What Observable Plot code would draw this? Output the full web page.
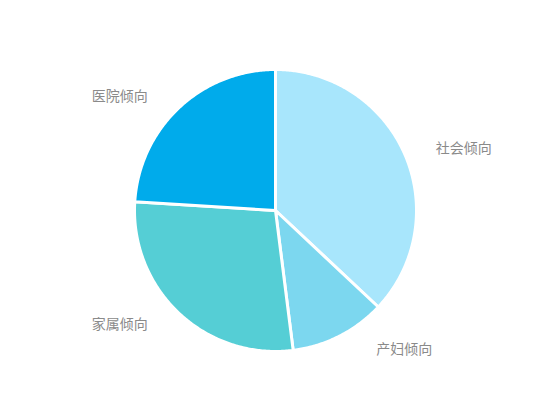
<!DOCTYPE html>
<html>
<head>
<meta charset="utf-8">
<script src="https://cdn.jsdelivr.net/npm/d3@7"></script>
<script src="https://cdn.jsdelivr.net/npm/@observablehq/plot@0.6"></script>
<style>
  html, body { margin: 0; padding: 0; background: #fff; }
  #chart { width: 550px; height: 420px; }
</style>
</head>
<body>
<div id="chart"></div>
<script>
const categories = ["社会倾向", "产妇倾向", "家属倾向", "医院倾向"];
const values = [37, 11, 28, 24];
const colors = ["#a8e6fc", "#7cd7ef", "#55ced5", "#00abeb"];

const pie = d3.pie().sort(null).value(d => d.value);
const arcs = pie(categories.map((c, i) => ({ name: c, value: values[i], color: colors[i] })));

// Polygon points for each slice in unit-circle coordinates
const polyPoints = [];
arcs.forEach((a, k) => {
  const n = Math.max(2, Math.ceil((a.endAngle - a.startAngle) / 0.01));
  polyPoints.push({ slice: a.data.name, color: a.data.color, x: 0, y: 0, o: 0 });
  for (let j = 0; j <= n; j++) {
    const t = a.startAngle + (a.endAngle - a.startAngle) * j / n;
    polyPoints.push({ slice: a.data.name, color: a.data.color, x: Math.sin(t), y: Math.cos(t), o: j + 1 });
  }
  polyPoints.push({ slice: a.data.name, color: a.data.color, x: 0, y: 0, o: n + 2 });
});

const labelR = (141 + 15) / 141;
const labels = arcs.map(a => {
  const m = (a.startAngle + a.endAngle) / 2;
  return { name: a.data.name, x: labelR * Math.sin(m), y: labelR * Math.cos(m), right: Math.sin(m) >= 0 };
});
// labels near the bottom on the right are pushed further out (overlap avoidance)
const rightUpper = labels.filter(d => d.right && d.y > -0.8);
const rightLower = labels.filter(d => d.right && d.y <= -0.8);
const leftSide = labels.filter(d => !d.right);

const textStyle = { x: "x", y: "y", text: "name", fontSize: 14, fill: "#8a8a8a" };

const plot = Plot.plot({
  width: 550,
  height: 420,
  margin: 0,
  style: { fontFamily: "'Noto Sans CJK SC', sans-serif", background: "#fff" },
  x: { domain: [-1, 1], range: [134, 416], axis: null },
  y: { domain: [-1, 1], range: [351, 69], axis: null },
  marks: [
    Plot.line(polyPoints, {
      x: "x", y: "y", z: "slice", fill: "color", stroke: "#fff", strokeWidth: 3,
      strokeLinejoin: "round", curve: "linear-closed"
    }),
    Plot.text(rightUpper, { ...textStyle, textAnchor: "start", dx: 17 }),
    Plot.text(rightLower, { ...textStyle, textAnchor: "start", dx: 30 }),
    Plot.text(leftSide, { ...textStyle, textAnchor: "end", dx: -21 })
  ]
});
document.getElementById("chart").appendChild(plot);
</script>
</body>
</html>
